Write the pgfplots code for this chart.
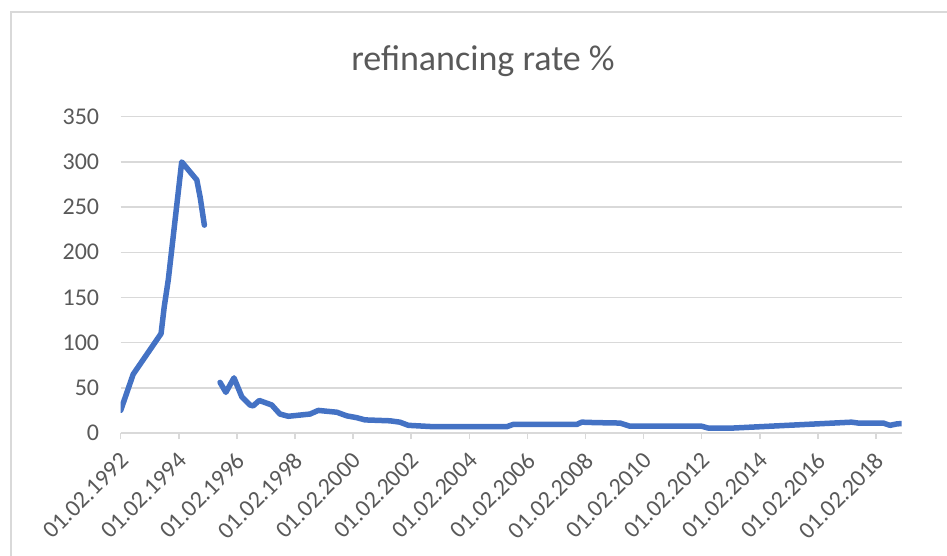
\documentclass[border=0pt]{standalone}
\usepackage{fontspec}
\setmainfont{Carlito}
\usepackage{pgfplots}
\usepackage{pgfplotstable}
\pgfplotsset{compat=1.18}
\definecolor{txtgray}{HTML}{595959}
\definecolor{gridgray}{HTML}{D9D9D9}
\definecolor{xlblue}{HTML}{4472C4}
\pgfplotstableread{
x v
1992.00 25
1992.43 65
1993.39 110
1993.50 140
1993.64 170
1994.10 300
1994.62 280
1994.74 260
1994.88 230
1995.15 nan
1995.42 56
1995.62 45
1995.90 61
1996.17 40
1996.45 31
1996.56 30
1996.77 36
1997.20 31
1997.48 21
1997.77 18.5
1998.52 21
1998.80 25
1999.44 23
1999.78 19
2000.12 17
2000.41 14.5
2001.27 13.5
2001.61 12
2001.90 8.5
2002.76 7
2005.29 7
2005.51 9.5
2007.70 9.5
2007.87 12
2008.33 11.5
2009.19 11
2009.53 7.5
2012.00 7.5
2012.22 5.5
2013.09 5.5
2017.16 12
2017.39 11
2018.25 11
2018.48 8.5
2018.71 10
2018.88 10.5
}\ratedata
\begin{document}
\begin{tikzpicture}
\path[use as bounding box] (-120.7pt,-122pt) rectangle (826.3pt,433pt);
\draw[gridgray, line width=1.3pt] (-109.7pt,421pt) rectangle (840pt,-140pt);
\begin{axis}[
  at={(0pt,0pt)}, anchor=south west,
  scale only axis, width=781pt, height=316.3pt,
  xmin=1992, xmax=2018.885, ymin=0, ymax=350,
  axis lines*=left,
  y axis line style={draw=none},
  x axis line style={draw=gridgray, line width=1.5pt},
  ymajorgrids, grid style={gridgray, line width=1.5pt},
  ytick={0,50,...,350},
  xtick={1992,1994,...,2018},
  xticklabels={01.02.1992,01.02.1994,01.02.1996,01.02.1998,01.02.2000,01.02.2002,01.02.2004,01.02.2006,01.02.2008,01.02.2010,01.02.2012,01.02.2014,01.02.2016,01.02.2018},
  tick align=outside, major tick length=6pt,
  ytick style={draw=none},
  xtick style={gridgray, line width=1.5pt},
  /pgf/number format/assume math mode=true,
  tick label style={font=\fontsize{24}{28}\selectfont, text=txtgray, inner sep=0pt},
  yticklabel style={anchor=east},
  yticklabel shift=15.4pt,
  xticklabel style={xshift=4pt, rotate=45, anchor=east},
  xticklabel shift=17.8pt,
  unbounded coords=jump,
]
\addplot[xlblue, line width=5.5pt, line join=round, line cap=round] table[x=x, y=v] {\ratedata};
\end{axis}
\node[anchor=base, text=txtgray, font=\fontsize{36}{43}\selectfont] at (362.3pt,362pt) {refinancing rate \%};
\end{tikzpicture}
\end{document}
